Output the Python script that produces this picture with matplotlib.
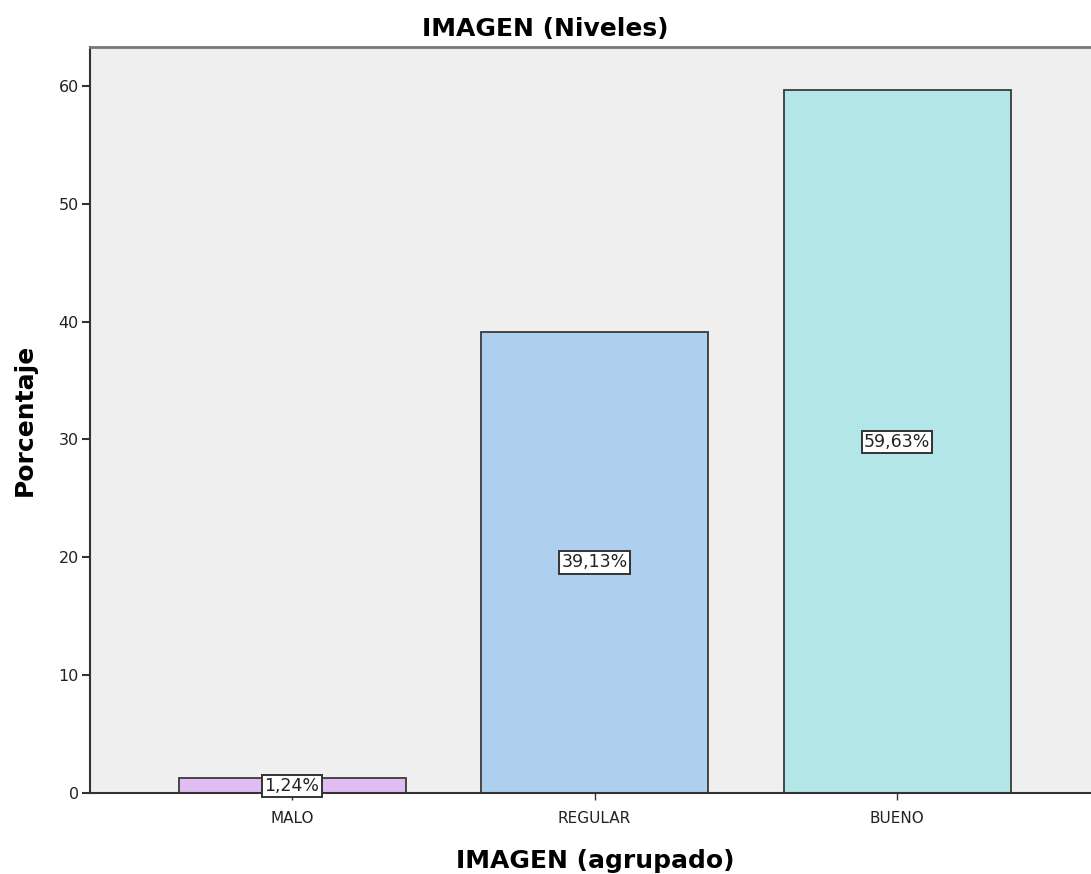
import matplotlib
matplotlib.use("Agg")
import matplotlib.pyplot as plt
import numpy as np

categorias = ["MALO", "REGULAR", "BUENO"]
porcentajes = [1.24, 39.13, 59.63]
colores = ["#dfbdf0", "#aecfee", "#b3e6e6"]
yticks = [0, 10, 20, 30, 40, 50, 60]

fig = plt.figure(figsize=(10.91, 8.74), dpi=100)
ax = fig.add_axes([90 / 1091, 1 - 793 / 874, 1 - 90 / 1091, (793 - 47) / 874])
ax.set_facecolor("#efefef")

x = np.arange(len(categorias))
ax.bar(x, porcentajes, width=0.75, color=colores, edgecolor="#3a3a3a", linewidth=1.3, zorder=2)

for xi, v in zip(x, porcentajes):
    txt = f"{v:.2f}".replace(".", ",") + "%"
    ax.text(xi, v / 2, txt, ha="center", va="center", fontsize=12.5, color="#222222", zorder=3,
            bbox=dict(boxstyle="square,pad=0.12", facecolor="white", edgecolor="#333333", linewidth=1.4))

ax.set_xlim(-0.668, 2.641)
ax.set_ylim(0, 63.3)
ax.set_xticks(x)
ax.set_xticklabels(categorias, fontsize=11, color="#222222")
ax.set_yticks(yticks)
ax.set_yticklabels([str(t) for t in yticks], fontsize=11.5, color="#222222")
ax.tick_params(axis="y", direction="out", length=6, width=1.5, color="#333333", pad=2)
ax.tick_params(axis="x", direction="out", length=5, width=1, color="#333333", pad=8)

ax.spines["right"].set_visible(False)
ax.spines["top"].set_color("#777777")
ax.spines["top"].set_linewidth(2)
ax.spines["left"].set_color("#333333")
ax.spines["left"].set_linewidth(1.5)
ax.spines["bottom"].set_color("#333333")
ax.spines["bottom"].set_linewidth(1.5)

fig.text(0.5, 1 - 29 / 874, "IMAGEN (Niveles)", ha="center", va="center",
         fontsize=18, fontweight="bold")
ax.set_xlabel("IMAGEN (agrupado)", fontsize=18, fontweight="bold", labelpad=18)
ax.xaxis.set_label_coords(0.5045, -0.075)
ax.set_ylabel("Porcentaje", fontsize=18, fontweight="bold", labelpad=16)

fig.savefig("out.png", dpi=100)
